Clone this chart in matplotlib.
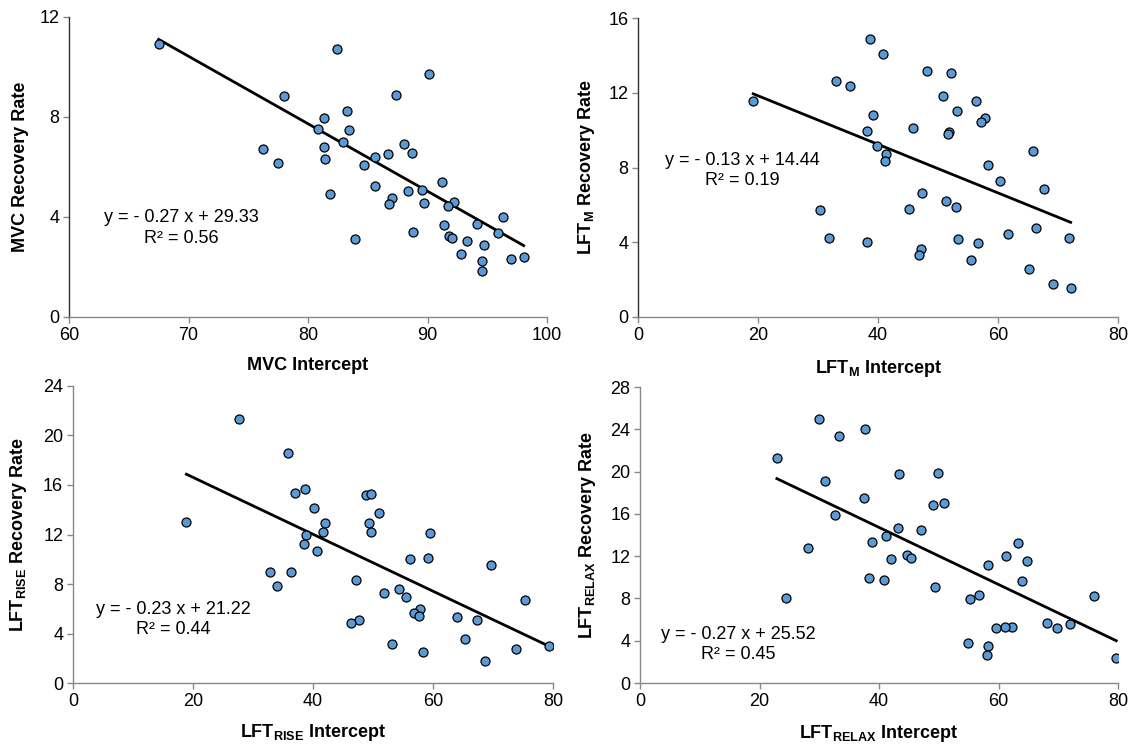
import matplotlib
matplotlib.use("Agg")
import matplotlib.pyplot as plt
import numpy as np

plt.rcParams['font.family'] = ['Liberation Sans', 'DejaVu Sans']
plt.rcParams['mathtext.fontset'] = 'custom'
plt.rcParams['mathtext.rm'] = 'Liberation Sans:bold'
plt.rcParams['mathtext.it'] = 'Liberation Sans:bold'
plt.rcParams['mathtext.bf'] = 'Liberation Sans:bold'

# ---- Panel 1: MVC ----
mvc_x = [67.5, 82.4, 90.1, 87.4, 78.0, 83.3, 81.3, 80.8, 83.4, 82.9, 88.0, 76.2,
         81.3, 86.7, 88.7, 85.6, 81.4, 77.5, 84.7, 85.6, 91.2, 88.4, 89.5, 81.8,
         87.0, 89.7, 92.2, 91.7, 86.8, 96.3, 94.1, 91.4, 95.9, 88.8, 91.8, 92.05,
         83.9, 93.3, 94.7, 92.8, 98.05, 97.0, 94.6, 94.6]
mvc_y = [10.93, 10.73, 9.70, 8.88, 8.82, 8.25, 7.95, 7.53, 7.48, 6.98, 6.93, 6.73,
         6.80, 6.50, 6.54, 6.38, 6.31, 6.15, 6.07, 5.24, 5.38, 5.04, 5.07, 4.92,
         4.76, 4.56, 4.58, 4.45, 4.51, 3.99, 3.73, 3.69, 3.34, 3.40, 3.24, 3.14,
         3.12, 3.05, 2.88, 2.53, 2.41, 2.30, 2.25, 1.82]
mvc_fit = (-0.27, 29.33, 0.56)

# ---- Panel 2: LFT_M ----
lftm_x = [38.6, 40.8, 48.1, 52.2, 33.0, 35.3, 50.8, 19.2, 56.4, 53.2, 39.1, 57.9,
          57.2, 38.2, 45.9, 51.8, 51.7, 39.9, 41.3, 41.2, 65.9, 58.3, 60.3, 67.6,
          47.3, 51.3, 53.0, 45.2, 30.4, 66.3, 61.6, 71.9, 31.9, 53.3, 38.2, 56.7,
          47.2, 46.8, 55.5, 65.1, 69.1, 72.1]
lftm_y = [14.88, 14.05, 13.16, 13.04, 12.64, 12.34, 11.82, 11.55, 11.57, 11.05, 10.82, 10.66,
          10.45, 9.98, 10.11, 9.88, 9.80, 9.16, 8.70, 8.34, 8.91, 8.13, 7.27, 6.84,
          6.63, 6.20, 5.89, 5.80, 5.71, 4.77, 4.43, 4.25, 4.25, 4.18, 4.04, 3.96,
          3.63, 3.34, 3.05, 2.57, 1.77, 1.55]
lftm_fit = (-0.13, 14.44, 0.19)

# ---- Panel 3: LFT_RISE ----
rise_x = [27.75, 35.9, 38.65, 37.0, 48.8, 49.7, 40.2, 51.0, 18.9, 42.0, 49.4, 41.7,
          49.6, 59.5, 38.8, 38.5, 40.6, 56.1, 59.2, 69.7, 32.8, 36.3, 47.1, 34.0,
          54.4, 51.9, 55.5, 75.3, 57.8, 56.8, 57.7, 64.0, 67.4, 47.6, 46.3, 65.4,
          53.2, 79.4, 73.8, 58.3, 68.7]
rise_y = [21.32, 18.57, 15.66, 15.34, 15.20, 15.28, 14.12, 13.75, 13.02, 12.96, 12.96, 12.24,
          12.24, 12.13, 11.94, 11.21, 10.65, 10.00, 10.13, 9.57, 8.98, 8.98, 8.33, 7.82,
          7.60, 7.30, 6.95, 6.74, 5.96, 5.69, 5.42, 5.31, 5.12, 5.07, 4.88, 3.58,
          3.18, 2.99, 2.75, 2.48, 1.75]
rise_fit = (-0.23, 21.22, 0.44)

# ---- Panel 4: LFT_RELAX ----
relax_x = [30.0, 37.7, 33.3, 22.9, 43.4, 49.9, 30.9, 37.4, 50.8, 49.0, 32.7, 43.1,
           47.0, 41.1, 63.3, 38.9, 28.1, 44.6, 45.3, 61.2, 42.0, 64.8, 58.3, 38.3,
           40.9, 63.9, 49.3, 24.5, 76.0, 56.7, 55.3, 68.1, 71.9, 62.3, 61.1, 59.5,
           69.7, 54.9, 58.2, 58.0, 79.7]
relax_y = [24.99, 24.01, 23.32, 21.30, 19.78, 19.87, 19.12, 17.54, 17.06, 16.84, 15.89, 14.69,
           14.47, 13.93, 13.27, 13.33, 12.73, 12.10, 11.82, 11.97, 11.75, 11.53, 11.15, 9.95,
           9.79, 9.67, 9.04, 8.06, 8.21, 8.37, 7.93, 5.72, 5.56, 5.34, 5.34, 5.21,
           5.21, 3.76, 3.54, 2.65, 2.34]
relax_fit = (-0.27, 25.52, 0.45)

panels = [
    dict(x=mvc_x, y=mvc_y, fit=mvc_fit, xlim=(60, 100), xticks=[60, 70, 80, 90, 100],
         ylim=(0, 12), yticks=[0, 4, 8, 12],
         xlabel='MVC Intercept', ylabel='MVC Recovery Rate',
         pos=[0.0609, 0.5745, 0.4219, 0.4027], eq=(0.236, 0.33, 0.261),
         xl=-0.133, yl=-0.083, lcol='#303030'),
    dict(x=lftm_x, y=lftm_y, fit=lftm_fit, xlim=(0, 80), xticks=[0, 20, 40, 60, 80],
         ylim=(0, 16), yticks=[0, 4, 8, 12, 16],
         xlabel=r'LFT$_{\mathrm{M}}$ Intercept', ylabel=r'LFT$_{\mathrm{M}}$ Recovery Rate',
         pos=[0.5631, 0.5745, 0.4237, 0.4013], eq=(0.217, 0.525, 0.455),
         xl=-0.137, yl=-0.085, lcol='#303030'),
    dict(x=rise_x, y=rise_y, fit=rise_fit, xlim=(0, 80), xticks=[0, 20, 40, 60, 80],
         ylim=(0, 24), yticks=[0, 4, 8, 12, 16, 20, 24],
         xlabel=r'LFT$_{\mathrm{RISE}}$ Intercept', ylabel=r'LFT$_{\mathrm{RISE}}$ Recovery Rate',
         pos=[0.0644, 0.0832, 0.4237, 0.3987], eq=(0.209, 0.247, 0.180),
         xl=-0.131, yl=-0.092, lcol='#888888'),
    dict(x=relax_x, y=relax_y, fit=relax_fit, xlim=(0, 80), xticks=[0, 20, 40, 60, 80],
         ylim=(0, 28), yticks=[0, 4, 8, 12, 16, 20, 24, 28],
         xlabel=r'LFT$_{\mathrm{RELAX}}$ Intercept', ylabel=r'LFT$_{\mathrm{RELAX}}$ Recovery Rate',
         pos=[0.5649, 0.0832, 0.4219, 0.3973], eq=(0.206, 0.165, 0.097),
         xl=-0.135, yl=-0.088, lcol='#888888'),
]

fig = plt.figure(figsize=(11.33, 7.45), dpi=100)

for p in panels:
    ax = fig.add_axes(p['pos'])
    x = np.array(p['x'])
    y = np.array(p['y'])
    m, b, r2 = p['fit']
    xs = np.array([x.min(), x.max()])
    ax.plot(xs, m * xs + b, color='black', lw=2.0, zorder=2)
    ax.scatter(x, y, s=42, facecolor='#5B9BD5', edgecolor='black', linewidths=0.9, zorder=3)
    ax.set_xlim(*p['xlim'])
    ax.set_ylim(*p['ylim'])
    ax.set_xticks(p['xticks'])
    ax.set_yticks(p['yticks'])
    for s in ['top', 'right']:
        ax.spines[s].set_visible(False)
    ax.spines['bottom'].set_color('#888888')
    ax.spines['left'].set_color(p['lcol'])
    ax.spines['bottom'].set_linewidth(1.0)
    ax.spines['left'].set_linewidth(1.0)
    ax.tick_params(axis='both', direction='out', length=4, width=1.0, color='#888888',
                   labelsize=13, pad=3, labelcolor='black')
    ax.set_xlabel(p['xlabel'], fontsize=13, fontweight='bold')
    ax.set_ylabel(p['ylabel'], fontsize=13, fontweight='bold')
    ax.xaxis.set_label_coords(0.5, p['xl'])
    ax.yaxis.set_label_coords(p['yl'], 0.5)
    sign = '-' if m < 0 else '+'
    ex, ey1, ey2 = p['eq']
    ax.text(ex, ey1, f'y = {sign} {abs(m):.2f} x + {b:.2f}', transform=ax.transAxes,
            ha='center', va='center', fontsize=13)
    ax.text(ex, ey2, f'R\u00b2 = {r2:.2f}', transform=ax.transAxes,
            ha='center', va='center', fontsize=13)

fig.savefig('out.png', dpi=100)
